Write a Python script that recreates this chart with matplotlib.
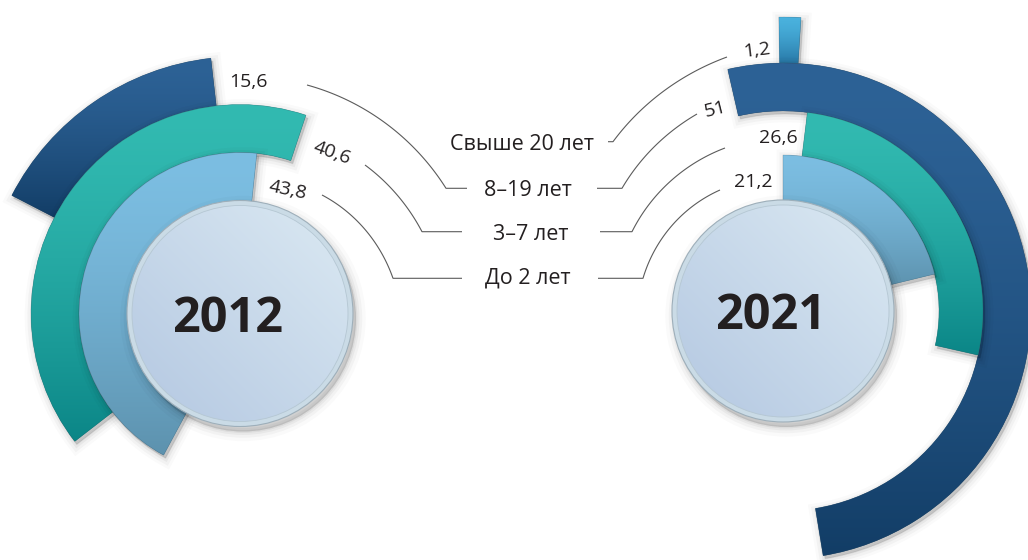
import numpy as np
import matplotlib
matplotlib.use("Agg")
import matplotlib.pyplot as plt
from matplotlib.patches import Circle, PathPatch
from matplotlib.transforms import Affine2D
from matplotlib.colors import to_rgb

# ---------------- data ----------------
categories = ["Свыше 20 лет", "8–19 лет", "3–7 лет", "До 2 лет"]
years = ["2012", "2021"]
values_2012 = [None, 15.6, 40.6, 43.8]
values_2021 = [1.2, 51.0, 26.6, 21.2]
labels_2012 = [None, "15,6", "40,6", "43,8"]
labels_2021 = ["1,2", "51", "26,6", "21,2"]

# ---------------- style ----------------
plt.rcParams["font.family"] = ["Open Sans", "DejaVu Sans"]
W, H, DPI = 1028, 560, 100
TEXT = "#231f20"
LINE = "#5b5b5b"
GRAD = [("#4ab2de", "#2878a7"), ("#2d6296", "#123d66"),
        ("#32bab1", "#0b8687"), ("#7cbee2", "#5d92ae")]
BASE = ["#3a95c4", "#245384", "#22a4a0", "#6eaad0"]

layout = {
    "2012": dict(center=(240, 313.5), circle_r=113, direction=1,
                 radii=[None, (209, 257), (161, 209), (100, 161)],
                 start=[None, 6.5, -18.4, -6.0],
                 label_pos=[None, (248, 82), (332, 153), (288, 190)],
                 label_rot=[None, 0, -20, -12],
                 conn=[None, ((307, 85), (446, 188.3), 467),
                       ((365, 165), (422, 231.7), 462),
                       ((322, 195), (393, 278.3), 462)]),
    "2021": dict(center=(783, 311), circle_r=111, direction=-1,
                 radii=[(248, 294), (200, 248), (156, 200), (100, 156)],
                 start=[-0.8, -12.9, 7.0, 0.0],
                 label_pos=[(757, 50), (715, 109), (778, 138), (753, 182)],
                 label_rot=[7, 14, 0, 0],
                 conn=[((727, 57), (613, 141.7), 608),
                       ((697, 114), (622, 188.3), 597),
                       ((725, 148), (632, 231.7), 600),
                       ((720, 190), (643, 278.3), 598)]),
}
cat_x = [522, 528, 531, 528]
cat_base = [150, 196.5, 240, 283]
RMAX = 320

fig = plt.figure(figsize=(W / DPI, H / DPI), dpi=DPI)
fig.patch.set_facecolor("white")

# ---------------- radial bars on polar axes ----------------
bars = {}
for year, vals in zip(years, [values_2012, values_2021]):
    L = layout[year]
    cx, cy = L["center"]
    ax = fig.add_axes([(cx - RMAX) / W, (H - cy - RMAX) / H, 2 * RMAX / W, 2 * RMAX / H],
                      projection="polar")
    ax.set_theta_zero_location("N")
    ax.set_theta_direction(L["direction"])
    ax.set_ylim(0, RMAX)
    ax.set_axis_off()
    ax.patch.set_alpha(0)
    bl = []
    for i, v in enumerate(vals):
        if v is None:
            bl.append(None)
            continue
        r0, r1 = L["radii"][i]
        b = ax.bar(np.deg2rad(L["start"][i]), r1 - r0, width=np.deg2rad(v * 360 / 100),
                   bottom=r0, align="edge", color=BASE[i], linewidth=0)[0]
        bl.append(b)
    bars[year] = bl

# ---------------- overlay (pixel coordinates) ----------------
ov = fig.add_axes([0, 0, 1, 1], zorder=10)
ov.set_xlim(0, W)
ov.set_ylim(H, 0)
ov.set_axis_off()
ov.patch.set_alpha(0)

fig.canvas.draw()
renderer = fig.canvas.get_renderer()
inv = ov.transData.inverted()


def vgrad(c_top, c_bot, n=256, gamma=1.5):
    t = np.linspace(0, 1, n)[:, None] ** gamma
    a, b = np.array(to_rgb(c_top)), np.array(to_rgb(c_bot))
    return (a * (1 - t) + b * t)[:, None, :]


def soft_shadow(patch_path, tr, z, layers):
    for lw, a in layers:
        ov.add_patch(PathPatch(patch_path, transform=tr, facecolor=(0, 0, 0, a),
                               edgecolor=(0, 0, 0, a), lw=lw, zorder=z))


z = 1
for year in years:
    for i, b in enumerate(bars[year]):
        if b is None:
            continue
        tr = b.get_transform() + Affine2D().translate(2, -3)
        soft_shadow(b.get_path(), tr, z, [(12, 0.02), (8, 0.03), (4, 0.045), (1, 0.06)])
        bb = b.get_window_extent(renderer)
        (x0, yb), (x1, yt) = inv.transform([(bb.x0, bb.y0), (bb.x1, bb.y1)])
        shape = PathPatch(b.get_path(), transform=b.get_transform(), facecolor="none",
                          edgecolor=(0.2, 0.3, 0.35, 0.25), lw=0.5, zorder=z + 0.2)
        ov.add_patch(shape)
        im = ov.imshow(vgrad(*GRAD[i]), extent=[x0, x1, yb, yt], origin="upper",
                       aspect="auto", interpolation="bilinear", zorder=z + 0.1)
        im.set_clip_path(shape)
        z += 1

    # central circle
    L = layout[year]
    cx, cy = L["center"]
    R = L["circle_r"]
    for lw, a in [(14, 0.02), (9, 0.03), (5, 0.04), (2, 0.05)]:
        ov.add_patch(Circle((cx + 3, cy + 5), R, facecolor=(0, 0, 0, a),
                            edgecolor=(0, 0, 0, a), lw=lw, zorder=z))
    ov.add_patch(Circle((cx, cy), R, facecolor="#cadbe6", edgecolor="#9eafba",
                        lw=0.8, zorder=z + 0.1))
    inner = Circle((cx, cy), R - 5, facecolor="none", edgecolor="#b5c7d3", lw=0.6,
                   zorder=z + 0.3)
    ov.add_patch(inner)
    n = 200
    u = np.linspace(0, 1, n)[None, :]
    v = np.linspace(0, 1, n)[:, None]
    t = (u + (1 - v)) / 2
    c0, c1 = np.array(to_rgb("#b3c7e1")), np.array(to_rgb("#dceaf3"))
    img = c0 * (1 - t[..., None]) + c1 * t[..., None]
    imc = ov.imshow(img, extent=[cx - R, cx + R, cy + R, cy - R], origin="upper",
                    aspect="auto", interpolation="bilinear", zorder=z + 0.2)
    imc.set_clip_path(inner)
    ov.text(cx - 12, cy + 18, year, ha="center", va="baseline", fontsize=35,
            fontweight="bold", color=TEXT, zorder=z + 0.5)
    z += 1


# ---------------- labels & connectors ----------------
def connector(c, p_label, p_turn, x_end):
    cx, cy = c
    a0 = np.arctan2(p_label[1] - cy, p_label[0] - cx)
    a1 = np.arctan2(p_turn[1] - cy, p_turn[0] - cx)
    d = (a1 - a0 + np.pi) % (2 * np.pi) - np.pi
    r0 = np.hypot(p_label[0] - cx, p_label[1] - cy)
    r1 = np.hypot(p_turn[0] - cx, p_turn[1] - cy)
    t = np.linspace(0, 1, 80)
    a = a0 + d * t
    r = r0 + (r1 - r0) * t
    xs = list(cx + r * np.cos(a)) + [x_end]
    ys = list(cy + r * np.sin(a)) + [p_turn[1]]
    ov.plot(xs, ys, color=LINE, lw=0.8, zorder=50, solid_capstyle="butt")


for year, labs in zip(years, [labels_2012, labels_2021]):
    L = layout[year]
    for i, lab in enumerate(labs):
        if lab is None:
            continue
        x, y = L["label_pos"][i]
        ov.text(x, y, lab, ha="center", va="center", rotation=L["label_rot"][i],
                rotation_mode="anchor", fontsize=14, color=TEXT, zorder=60)
        p_label, p_turn, x_end = L["conn"][i]
        connector(L["center"], p_label, p_turn, x_end)

for i, cat in enumerate(categories):
    ov.text(cat_x[i], cat_base[i], cat, ha="center", va="baseline", fontsize=15.5,
            color=TEXT, zorder=60)

fig.savefig("out.png", dpi=DPI, facecolor="white")
